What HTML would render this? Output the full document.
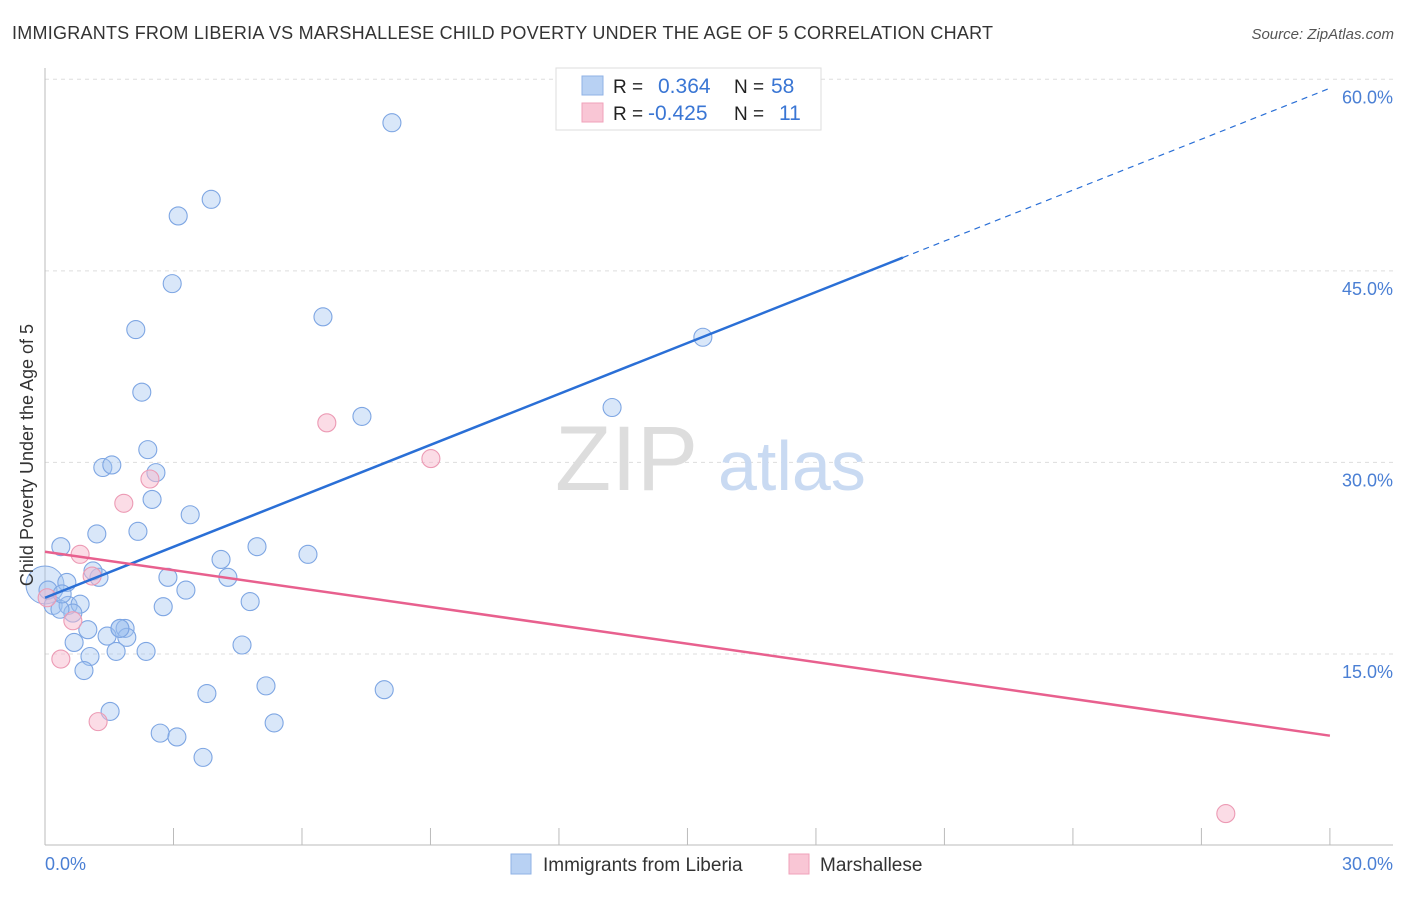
<!DOCTYPE html>
<html><head><meta charset="utf-8"><style>
body{margin:0;background:#fff;font-family:"Liberation Sans",sans-serif;}
svg text{font-family:"Liberation Sans",sans-serif;}
</style></head><body>
<svg width="1406" height="892" xmlns="http://www.w3.org/2000/svg">
<text x="12" y="39" font-size="18" fill="#333" textLength="981">IMMIGRANTS FROM LIBERIA VS MARSHALLESE CHILD POVERTY UNDER THE AGE OF 5 CORRELATION CHART</text>
<text x="1394" y="39" font-size="15" fill="#555" font-style="italic" text-anchor="end">Source: ZipAtlas.com</text>
<g id="grid"></g>
<text x="555" y="490" font-size="92" fill="#ddd" font-family="Liberation Serif,serif">ZIP</text>
<text x="718" y="490" font-size="70" fill="#c9daf2">atlas</text>
<g id="pts"></g>
<g id="lines"></g>
<text x="33" y="455" font-size="18" fill="#333" text-anchor="middle" transform="rotate(-90 33 455)">Child Poverty Under the Age of 5</text>
<text x="45" y="870" font-size="18" fill="#4a7fd4">0.0%</text>
<text x="1393" y="870" font-size="18" fill="#4a7fd4" text-anchor="end">30.0%</text>
<g>
<rect x="556" y="68" width="265" height="62" fill="#fff" stroke="#ddd"/>
<rect x="582" y="76" width="21" height="19" fill="#b8d1f3" stroke="#8fb2e6"/>
<rect x="582" y="103" width="21" height="19" fill="#f9c6d5" stroke="#f0a2ba"/>
<text x="613" y="93" font-size="19" fill="#222">R =</text><text x="658" y="93" font-size="21" fill="#3a76d4">0.364</text>
<text x="734" y="93" font-size="19" fill="#222">N =</text><text x="771" y="93" font-size="21" fill="#3a76d4">58</text>
<text x="613" y="120" font-size="19" fill="#222">R =</text><text x="648" y="120" font-size="21" fill="#3a76d4">-0.425</text>
<text x="734" y="120" font-size="19" fill="#222">N =</text><text x="779" y="120" font-size="21" fill="#3a76d4">11</text>
</g>
<g>
<rect x="511" y="854" width="20" height="20" fill="#b8d1f3" stroke="#8fb2e6"/>
<text x="543" y="871" font-size="19" fill="#333">Immigrants from Liberia</text>
<rect x="789" y="854" width="20" height="20" fill="#f9c6d5" stroke="#f0a2ba"/>
<text x="820" y="871" font-size="19" fill="#333">Marshallese</text>
</g>
</svg>
<script>
const blueX=[8.10,3.88,3.11,2.97,6.49,2.12,15.36,2.26,13.24,7.40,2.40,1.35,1.56,2.59,2.50,3.39,1.21,2.17,0.37,4.95,6.14,4.11,0.51,1.26,1.12,2.87,4.27,3.29,0.07,0.19,0.54,0.82,2.76,4.79,0.65,1.00,1.75,1.87,1.91,1.45,0.68,4.60,1.66,2.36,1.05,0.91,5.16,3.78,7.92,1.52,5.35,2.69,3.08,3.69,0.35,0.40,1.75];
const blueY=[56.6,50.6,49.3,44.0,41.4,40.4,39.8,35.5,34.3,33.6,31.0,29.6,29.8,29.2,27.1,25.9,24.4,24.6,23.4,23.4,22.8,22.4,20.6,21.0,21.5,21.0,21.0,20.0,20.0,18.8,18.8,18.9,18.7,19.1,18.2,16.9,17.0,17.0,16.3,16.4,15.9,15.7,15.2,15.2,14.8,13.7,12.5,11.9,12.2,10.5,9.6,8.8,8.5,6.9,18.5,19.7,17.0];
const pinkX=[6.58,9.01,2.45,1.84,0.82,1.10,0.05,0.65,0.37,1.24,27.57];
const pinkY=[33.1,30.3,28.7,26.8,22.8,21.1,19.4,17.6,14.6,9.7,2.5];
const yTicks=[15,30,45,60];
const yTickLabels=["15.0%","30.0%","45.0%","60.0%"];
const blueTrend=[19.4,59.3,20.03];
const pinkTrend=[23.0,8.6];
const X=v=>45+v*42.83, Y=v=>845.5-v*12.77;
const NS="http://www.w3.org/2000/svg";
function mk(t,a,p){const e=document.createElementNS(NS,t);for(const k in a)e.setAttribute(k,a[k]);p.appendChild(e);return e;}
const g=document.getElementById('grid');
yTicks.forEach((t,i)=>{
 const l=mk('line',{x1:45,x2:1393,y1:Y(t),y2:Y(t),stroke:'#ddd','stroke-dasharray':'4,4'},g);
 
 
 const tx=mk('text',{x:1393,y:Y(t)+24,'font-size':18,fill:'#4a7fd4','text-anchor':'end'},g);
 tx.textContent=yTickLabels[i];
 
 
});
mk('line',{x1:45,x2:45,y1:68,y2:845,stroke:'#bbb'},g);
mk('line',{x1:45,x2:1393,y1:845,y2:845,stroke:'#bbb'},g);
for(let i=1;i<=10;i++){mk('line',{x1:X(i*3),x2:X(i*3),y1:828,y2:845,stroke:'#bbb'},g);}
const p=document.getElementById('pts');
const big=mk('circle',{cx:X(0),cy:Y(20.4),r:19,fill:'rgba(160,195,240,0.4)',stroke:'#7ea6e3'},p);


blueX.forEach((x,i)=>{const c=mk('circle',{cx:X(x),cy:Y(blueY[i]),r:9,fill:'rgba(160,195,240,0.4)',stroke:'#7ea6e3','stroke-width':1.1},p);
 
 });
pinkX.forEach((x,i)=>{const c=mk('circle',{cx:X(x),cy:Y(pinkY[i]),r:9,fill:'rgba(248,185,205,0.5)',stroke:'#ec9ab4','stroke-width':1.1},p);
 
 });
const L=document.getElementById('lines');
const bs=blueTrend[0],be=blueTrend[1],bx=blueTrend[2];
const ym=bs+(be-bs)*bx/30;
const l1=mk('line',{x1:X(0),y1:Y(bs),x2:X(bx),y2:Y(ym),stroke:'#2a6fd6','stroke-width':2.5},L);


const l2=mk('line',{x1:X(bx),y1:Y(ym),x2:X(30),y2:Y(be),stroke:'#2a6fd6','stroke-width':1.2,'stroke-dasharray':'6,5'},L);


const l3=mk('line',{x1:X(0),y1:Y(pinkTrend[0]),x2:X(30),y2:Y(pinkTrend[1]),stroke:'#e8608e','stroke-width':2.5},L);


</script>
</body></html>
